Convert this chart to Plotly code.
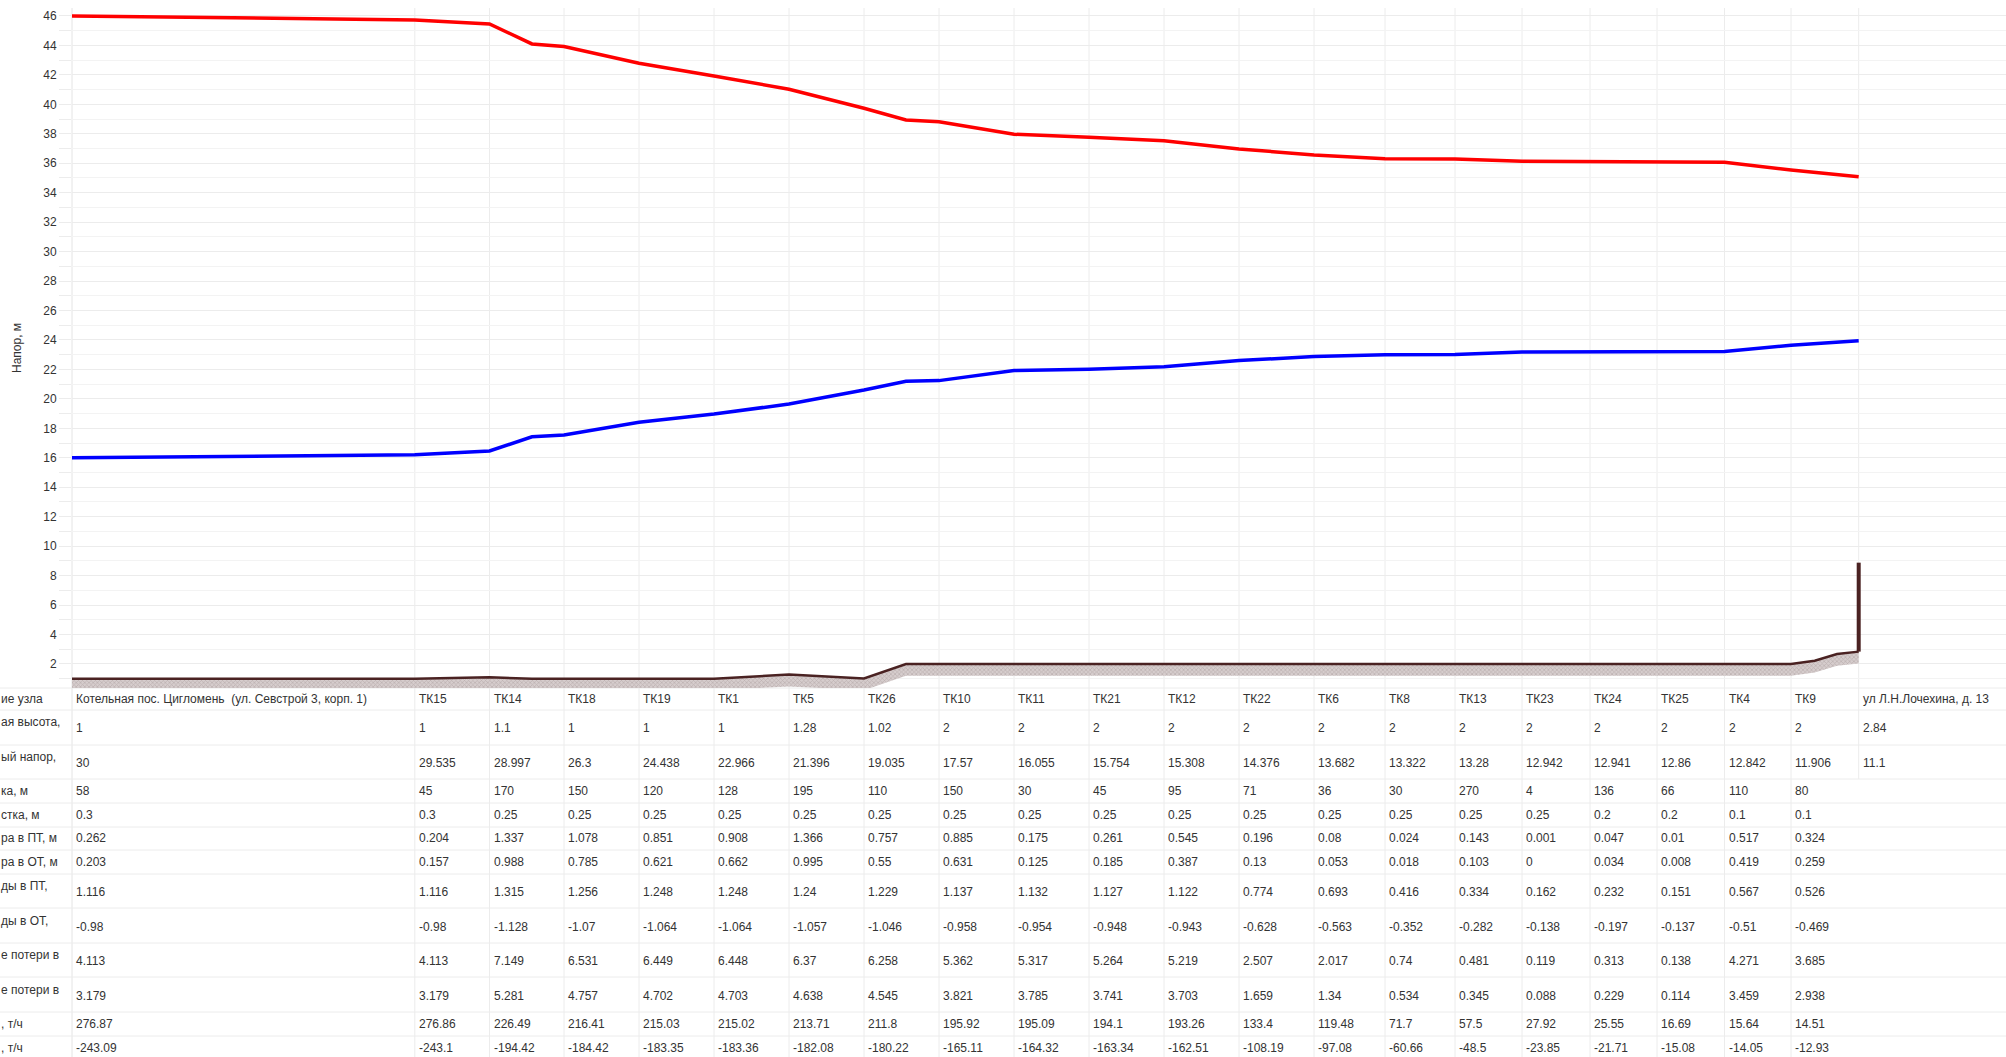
import plotly.graph_objects as go

# ---------------- data ----------------
NODE_NAMES = ["Котельная пос. Цигломень \u00a0(ул. Севстрой 3, корп. 1)", "ТК15", "ТК14", "ТК18", "ТК19", "ТК1",
              "ТК5", "ТК26", "ТК10", "ТК11", "ТК21", "ТК12", "ТК22", "ТК6", "ТК8", "ТК13", "ТК23", "ТК24",
              "ТК25", "ТК4", "ТК9", "ул Л.Н.Лочехина, д. 13"]
GEO_HEIGHT = [1, 1, 1.1, 1, 1, 1, 1.28, 1.02, 2, 2, 2, 2, 2, 2, 2, 2, 2, 2, 2, 2, 2, 2.84]
AVAIL_HEAD = [30, 29.535, 28.997, 26.3, 24.438, 22.966, 21.396, 19.035, 17.57, 16.055, 15.754, 15.308,
              14.376, 13.682, 13.322, 13.28, 12.942, 12.941, 12.86, 12.842, 11.906, 11.1]
LENGTH = [58, 45, 170, 150, 120, 128, 195, 110, 150, 30, 45, 95, 71, 36, 30, 270, 4, 136, 66, 110, 80]
DIAMETER = [0.3, 0.3, 0.25, 0.25, 0.25, 0.25, 0.25, 0.25, 0.25, 0.25, 0.25, 0.25, 0.25, 0.25, 0.25, 0.25,
            0.25, 0.2, 0.2, 0.1, 0.1]
LOSS_PT = [0.262, 0.204, 1.337, 1.078, 0.851, 0.908, 1.366, 0.757, 0.885, 0.175, 0.261, 0.545, 0.196, 0.08,
           0.024, 0.143, 0.001, 0.047, 0.01, 0.517, 0.324]
LOSS_OT = [0.203, 0.157, 0.988, 0.785, 0.621, 0.662, 0.995, 0.55, 0.631, 0.125, 0.185, 0.387, 0.13, 0.053,
           0.018, 0.103, 0, 0.034, 0.008, 0.419, 0.259]
VEL_PT = [1.116, 1.116, 1.315, 1.256, 1.248, 1.248, 1.24, 1.229, 1.137, 1.132, 1.127, 1.122, 0.774, 0.693,
          0.416, 0.334, 0.162, 0.232, 0.151, 0.567, 0.526]
VEL_OT = [-0.98, -0.98, -1.128, -1.07, -1.064, -1.064, -1.057, -1.046, -0.958, -0.954, -0.948, -0.943,
          -0.628, -0.563, -0.352, -0.282, -0.138, -0.197, -0.137, -0.51, -0.469]
SPEC_PT = [4.113, 4.113, 7.149, 6.531, 6.449, 6.448, 6.37, 6.258, 5.362, 5.317, 5.264, 5.219, 2.507, 2.017,
           0.74, 0.481, 0.119, 0.313, 0.138, 4.271, 3.685]
SPEC_OT = [3.179, 3.179, 5.281, 4.757, 4.702, 4.703, 4.638, 4.545, 3.821, 3.785, 3.741, 3.703, 1.659, 1.34,
           0.534, 0.345, 0.088, 0.229, 0.114, 3.459, 2.938]
FLOW_PT = [276.87, 276.86, 226.49, 216.41, 215.03, 215.02, 213.71, 211.8, 195.92, 195.09, 194.1, 193.26,
           133.4, 119.48, 71.7, 57.5, 27.92, 25.55, 16.69, 15.64, 14.51]
FLOW_OT = [-243.09, -243.1, -194.42, -184.42, -183.35, -183.36, -182.08, -180.22, -165.11, -164.32, -163.34,
           -162.51, -108.19, -97.08, -60.66, -48.5, -23.85, -21.71, -15.08, -14.05, -12.93]

# row headers, as far as they are visible in the (scrolled) table
ROW_LABELS = ["ие узла", "ая высота,", "ый напор,", "ка, м", "стка, м", "ра в ПТ, м", "ра в ОТ, м",
              "ды в ПТ,", "ды в ОТ,", "е потери в", "е потери в", ", т/ч", ", т/ч"]
ROW_TWO_LINE = [False, True, True, False, False, False, False, True, True, True, True, False, False]

# profile along the route (node index + fraction of the node's column)
HEAD_POS = [0, 1, 2, 2.57, 3, 4, 5, 6, 7, 7.56, 8, 9, 10, 11, 12, 13, 14, 15, 16, 17, 18, 19, 20, 21]
SUPPLY_HEAD = [46.0, 45.73, 45.46, 44.10, 43.92, 42.79, 41.93, 41.02, 39.73, 38.94, 38.82, 37.97, 37.76,
               37.53, 36.97, 36.56, 36.31, 36.29, 36.13, 36.12, 36.08, 36.07, 35.54, 35.09]
RETURN_HEAD = [16.0, 16.2, 16.46, 17.43, 17.55, 18.41, 18.97, 19.65, 20.60, 21.2, 21.24, 21.92, 22.01,
               22.19, 22.6, 22.87, 23.0, 23.02, 23.18, 23.18, 23.21, 23.22, 23.64, 23.95]
GROUND_POS = [0, 1, 2, 2.57, 3, 4, 5, 6, 7, 7.56, 8, 9, 10, 11, 12, 13, 14, 15, 16, 17, 18, 19, 20,
              20.35, 20.68, 21]
GROUND = [1, 1, 1.1, 1.0, 1, 1, 1, 1.28, 1.02, 2, 2, 2, 2, 2, 2, 2, 2, 2, 2, 2, 2, 2, 2, 2.22, 2.68, 2.84]
END_MARK_POS = [21, 21]
END_MARK = [2.84, 8.88]

# ---------------- layout geometry ----------------
W, H = 2006, 1057
ML, MT = 72, 8
PW, PH = W - ML, H - MT
COL_W = [342.8, 74.7, 74.5, 75, 75, 75, 75, 75, 75, 75, 75, 75, 75, 71, 70, 67, 68, 67, 67.5, 66.5, 67.7, 147.3]
COL_X = [0]
for w in COL_W[:-1]:
    COL_X.append(COL_X[-1] + w)
TABLE_TOP = 688
ROW_EDGES = [688, 710, 745, 779, 803, 827, 850, 874, 908, 943, 977, 1012, 1036, 1060]
FONT = "Arial, 'Liberation Sans', sans-serif"
TXT = "#333333"
GRID = "#ececec"


def xpos(p):
    i = min(int(p), len(COL_W) - 1)
    return COL_X[i] + (p - i) * COL_W[i]


def paper_x(px):
    return (px - ML) / PW


def paper_y(py):
    return (H - py) / PH


def fmt(v):
    return f"{v:g}"


fig = go.Figure()

gx = [xpos(p) for p in GROUND_POS]
band_bottom = [g - 0.8 for g in GROUND]
fig.add_trace(go.Scatter(x=gx + gx[::-1], y=GROUND + band_bottom[::-1], mode="lines", fill="toself",
                         line=dict(width=0), fillcolor="#c9bfbf",
                         fillpattern=dict(shape="x", size=3, solidity=0.4, fgcolor="#a09292", bgcolor="#d6cdcd"),
                         hoverinfo="skip"))
fig.add_trace(go.Scatter(x=gx, y=GROUND, mode="lines", line=dict(color="#4a2222", width=2.5)))
fig.add_trace(go.Scatter(x=[xpos(p) for p in END_MARK_POS], y=END_MARK, mode="lines",
                         line=dict(color="#4a2222", width=4)))
hx = [xpos(p) for p in HEAD_POS]
fig.add_trace(go.Scatter(x=hx, y=SUPPLY_HEAD, mode="lines", line=dict(color="#ff0000", width=3.5)))
fig.add_trace(go.Scatter(x=hx, y=RETURN_HEAD, mode="lines", line=dict(color="#0000ff", width=3.5)))

shapes = []
shapes.append(dict(type="line", xref="paper", yref="paper", x0=0, x1=0, y0=0, y1=1,
                   line=dict(color="#e4e4e4", width=1), layer="below"))
for i in range(1, len(COL_X)):
    y_end = paper_y(ROW_EDGES[3]) if i == len(COL_X) - 1 else 0
    xp = paper_x(ML + COL_X[i])
    shapes.append(dict(type="line", xref="paper", yref="paper", x0=xp, x1=xp, y0=y_end, y1=1,
                       line=dict(color=GRID, width=1), layer="below"))
for ry in ROW_EDGES[:-1]:
    yp = paper_y(ry)
    shapes.append(dict(type="line", xref="paper", yref="paper", x0=paper_x(0), x1=paper_x(W), y0=yp, y1=yp,
                       line=dict(color=GRID, width=1), layer="below"))

rows = [NODE_NAMES, GEO_HEIGHT, AVAIL_HEAD, LENGTH, DIAMETER, LOSS_PT, LOSS_OT, VEL_PT, VEL_OT,
        SPEC_PT, SPEC_OT, FLOW_PT, FLOW_OT]
annotations = []
for r, (label, vals) in enumerate(zip(ROW_LABELS, rows)):
    yc_px = (ROW_EDGES[r] + ROW_EDGES[r + 1]) / 2
    label_px = yc_px - 5 if ROW_TWO_LINE[r] else yc_px
    annotations.append(dict(text=label, xref="paper", yref="paper", x=paper_x(0), y=paper_y(label_px),
                            xanchor="left", yanchor="middle", align="left", showarrow=False, borderpad=0,
                            font=dict(family=FONT, size=12, color=TXT)))
    val_px = yc_px + 1 if ROW_TWO_LINE[r] else yc_px
    for i, v in enumerate(vals):
        t = v if isinstance(v, str) else fmt(v)
        annotations.append(dict(text=t, xref="paper", yref="paper", x=paper_x(ML + COL_X[i] + 3),
                                y=paper_y(val_px), xanchor="left", yanchor="middle", showarrow=False,
                                borderpad=0, font=dict(family=FONT, size=12, color=TXT)))

annotations.append(dict(text="Напор, м", xref="paper", yref="paper", x=paper_x(17),
                        y=(paper_y(TABLE_TOP) + 1) / 2, textangle=-90, showarrow=False,
                        xanchor="center", yanchor="middle", font=dict(family=FONT, size=12, color=TXT)))

fig.update_layout(
    width=W, height=H,
    margin=dict(l=ML, r=0, t=MT, b=0, pad=0),
    paper_bgcolor="white", plot_bgcolor="white",
    showlegend=False,
    shapes=shapes, annotations=annotations,
    xaxis=dict(range=[0, PW], visible=False, showgrid=False, zeroline=False, fixedrange=True),
    yaxis=dict(domain=[paper_y(TABLE_TOP), 1], range=[0.37, 46.54], tick0=0, dtick=2,
               ticks="outside", ticklen=12, tickcolor=GRID, tickwidth=1,
               showgrid=True, gridcolor=GRID, gridwidth=1, zeroline=False, showline=False,
               tickfont=dict(family=FONT, size=12, color=TXT),
               minor=dict(dtick=1, ticks="outside", ticklen=12, tickcolor=GRID, showgrid=True,
                          gridcolor="#f3f3f3", gridwidth=1),
               fixedrange=True),
    font=dict(family=FONT, size=12, color=TXT),
)

fig.write_html("out.html", config={"displayModeBar": False},
               post_script="document.body.style.margin='0';document.body.style.overflow='hidden';")
